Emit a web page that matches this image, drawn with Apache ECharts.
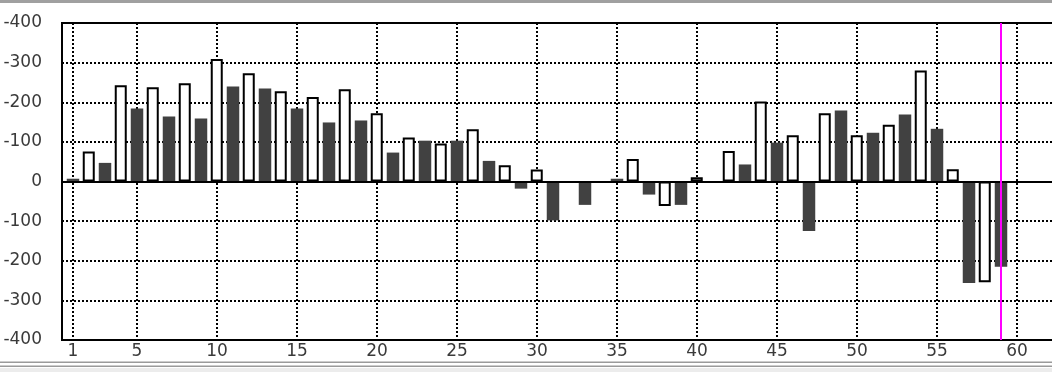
<!DOCTYPE html>
<html>
<head>
<meta charset="utf-8">
<script src="https://cdn.jsdelivr.net/npm/echarts@6/dist/echarts.min.js"></script>
<style>
html,body{margin:0;padding:0;background:#fff;}
#chart{width:1052px;height:372px;}
</style>
</head>
<body>
<div id="chart"></div>
<script>
// x positions 1..59
const xValues = [];
for (let i = 1; i <= 59; i++) xValues.push(i);
const values = [
  7, 76, 47, 243, 184, 238, 164, 248, 159, 309,
  240, 273, 235, 228, 184, 213, 149, 233, 154, 172,
  73, 111, 103, 96, 103, 132, 52, 41, -18, 30,
  -98, null, -59, null, 7, 57, -33, -62, -59, 11,
  null, 77, 43, 202, 98, 117, -125, 172, 179, 117,
  123, 143, 169, 280, 133, 31, -256, -254, -215
];
const xTickValues = [1, 5, 10, 15, 20, 25, 30, 35, 40, 45, 50, 55, 60];
const markerX = 59;

const whiteData = [], darkData = [];
xValues.forEach((x, i) => {
  if (values[i] === null) return;
  if (x % 2 === 0) whiteData.push([x, values[i]]);
  else darkData.push([x, values[i]]);
});

const chart = echarts.init(document.getElementById('chart'), null, {renderer: 'canvas'});
const labelFont = {fontFamily: 'DejaVu Sans', fontSize: 17, color: '#3a3a3a'};
const gridLine = {show: true, lineStyle: {color: '#000', width: 2, type: [2, 2]}};
chart.setOption({
  animation: false,
  backgroundColor: '#fff',
  grid: {left: 62, top: 23, width: 1000, height: 317, show: true, borderColor: '#000', borderWidth: 2,
         containLabel: false, outerBoundsMode: 'none'},
  xAxis: {
    type: 'value', min: 0.3125, max: 62.8125,
    axisLine: {show: false},
    axisTick: {show: false, customValues: xTickValues},
    axisLabel: Object.assign({customValues: xTickValues, margin: 3}, labelFont),
    splitLine: gridLine
  },
  yAxis: {
    type: 'value', min: -400, max: 400, interval: 100,
    axisLine: {show: false},
    axisTick: {show: false},
    axisLabel: Object.assign({margin: 20, formatter: v => v === 0 ? '0' : '-' + Math.abs(v)}, labelFont),
    splitLine: gridLine
  },
  series: [
    {
      type: 'bar', data: whiteData, barWidth: 12, barGap: '-100%',
      itemStyle: {color: '#fff', borderColor: '#000', borderWidth: 2},
      z: 3
    },
    {
      type: 'bar', data: darkData, barWidth: 12.5, barGap: '-100%',
      itemStyle: {color: '#414141'},
      z: 3,
      markLine: {
        silent: true, symbol: 'none', label: {show: false}, z: 5,
        data: [
          {yAxis: 0, lineStyle: {color: '#000', width: 2, type: 'solid'}},
          {xAxis: markerX, lineStyle: {color: '#ff00ff', width: 2, type: 'solid'}}
        ]
      }
    }
  ],
  graphic: [
    {type: 'rect', shape: {x: 0, y: 0, width: 1052, height: 3}, style: {fill: '#a0a0a0'}},
    {type: 'rect', shape: {x: 0, y: 361.5, width: 1052, height: 1.5}, style: {fill: '#9a9a9a'}},
    {type: 'rect', shape: {x: 0, y: 365.5, width: 1052, height: 1.5}, style: {fill: '#9a9a9a'}},
    {type: 'rect', shape: {x: 0, y: 368, width: 1052, height: 4}, style: {fill: '#ececec'}}
  ]
});
</script>
</body>
</html>
